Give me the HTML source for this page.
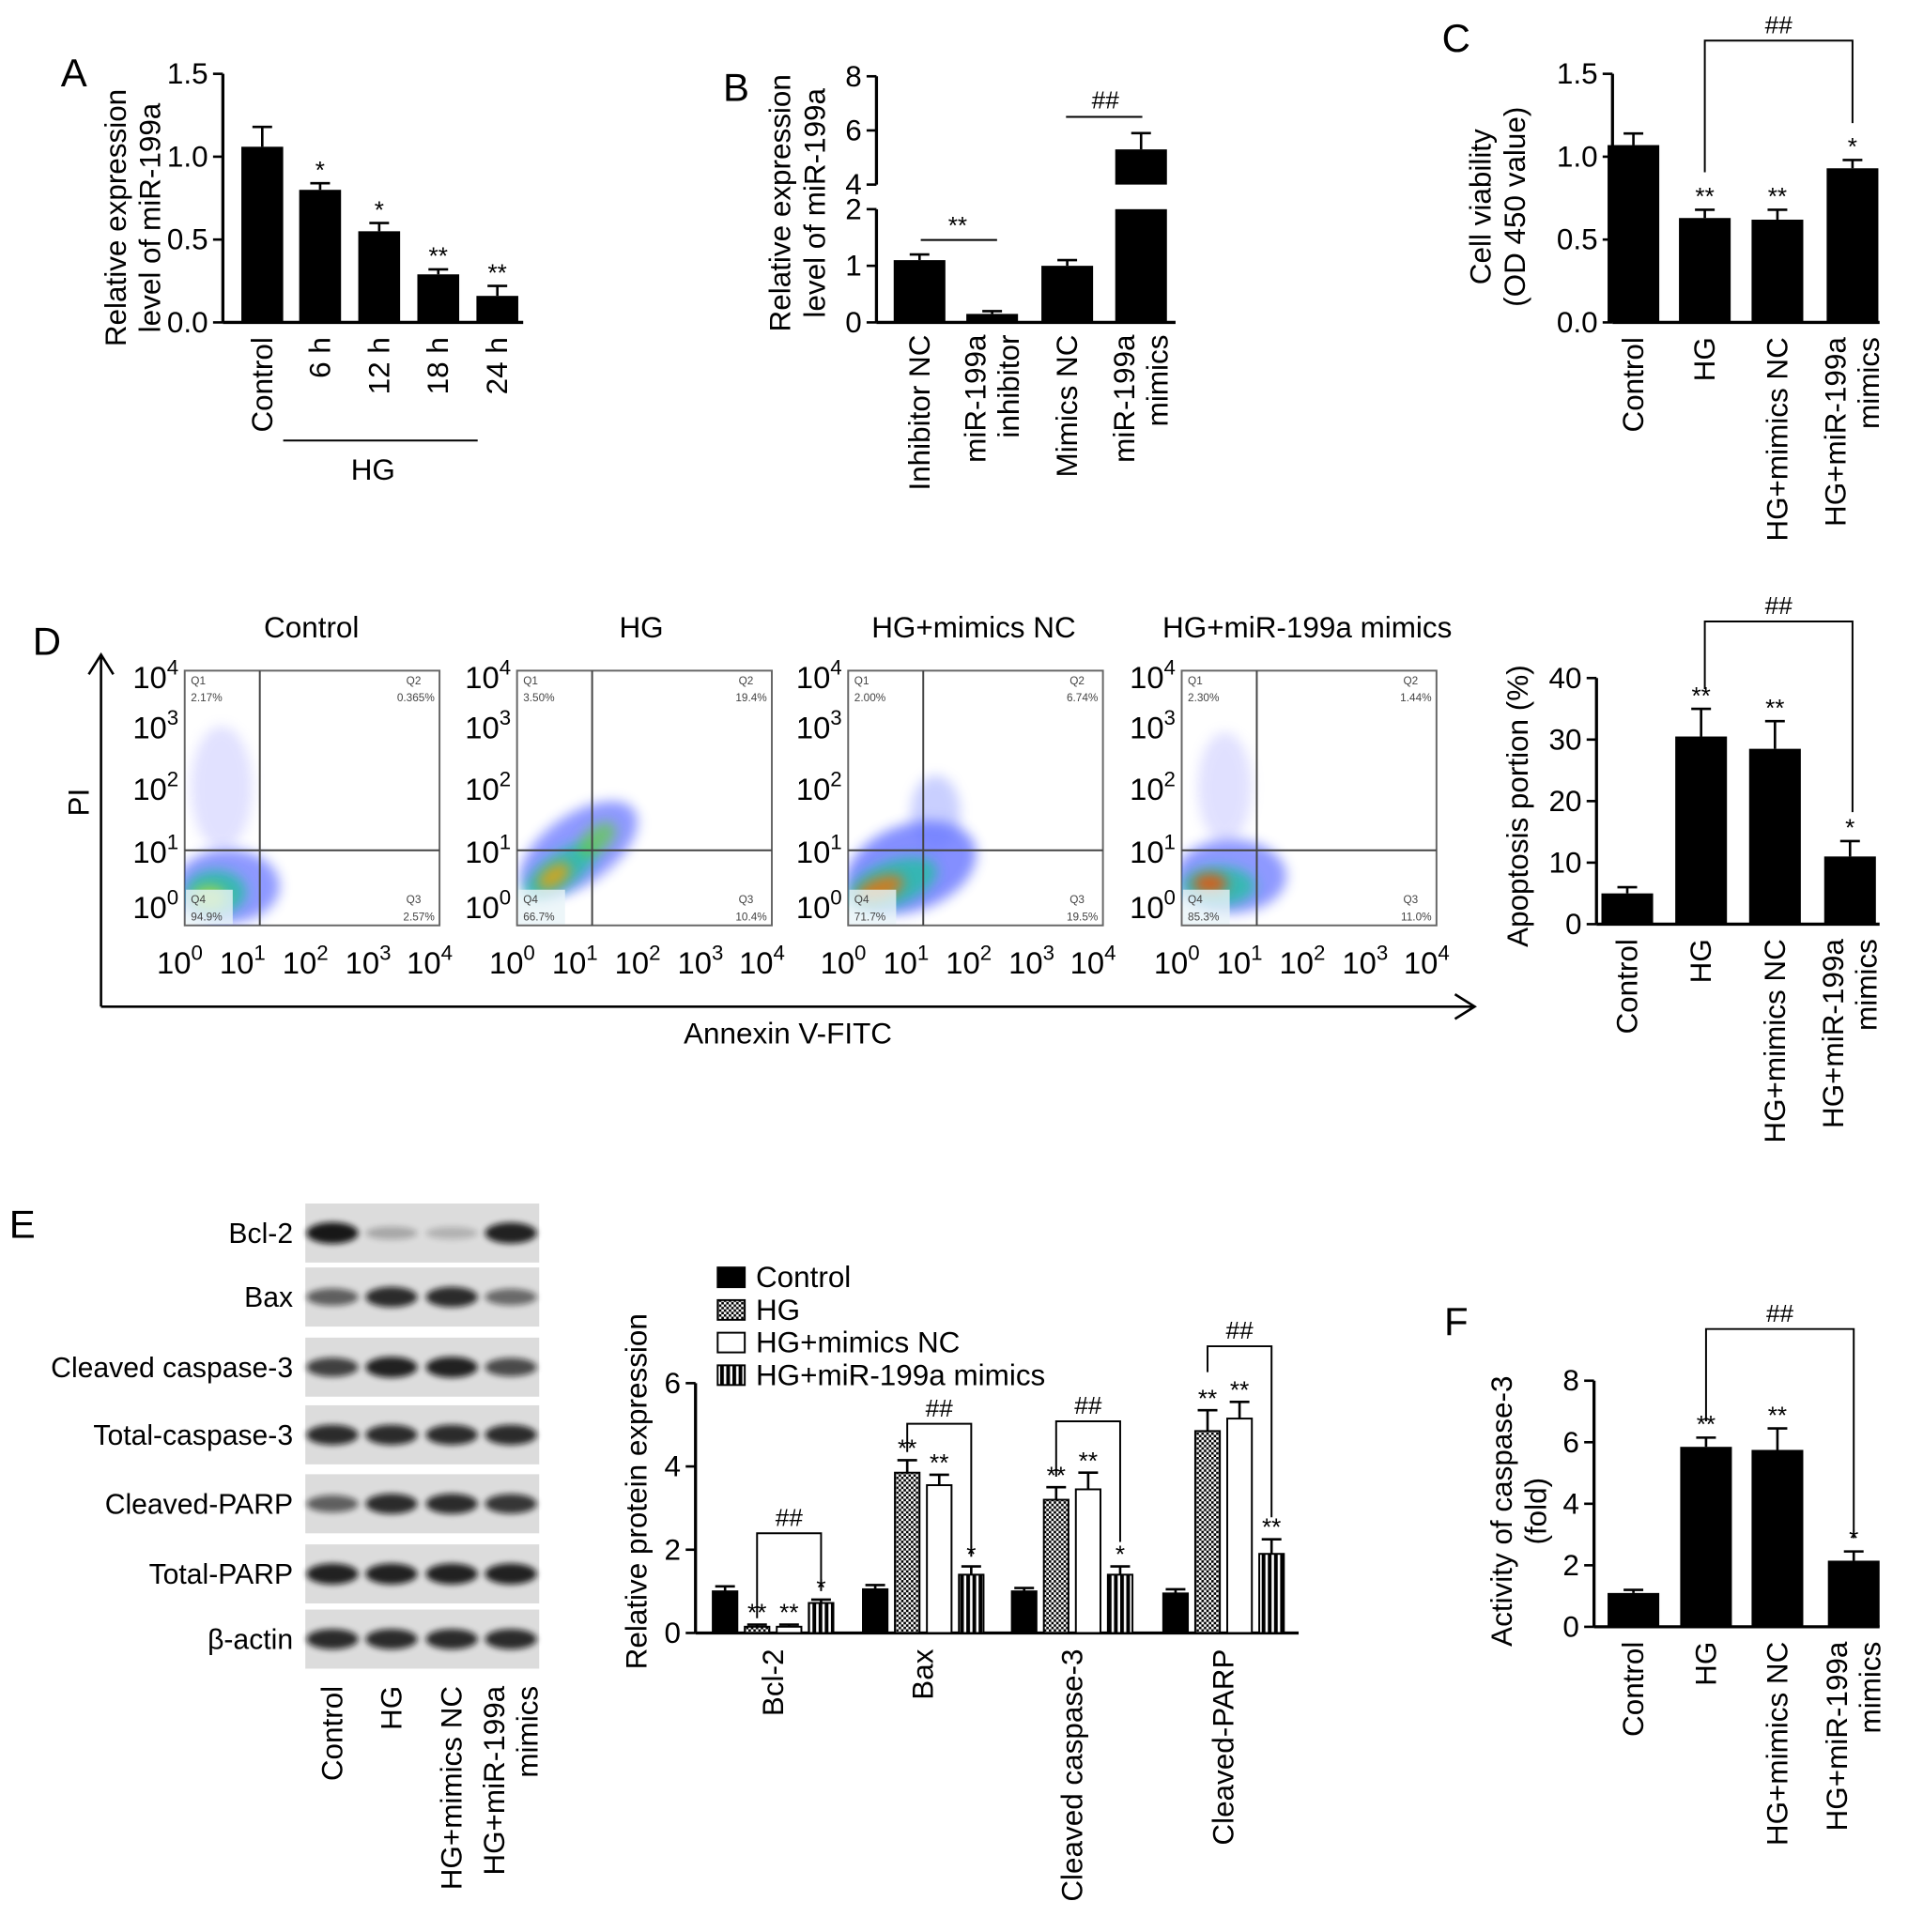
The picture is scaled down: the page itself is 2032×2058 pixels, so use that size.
<!DOCTYPE html>
<html><head><meta charset="utf-8">
<style>
html,body{margin:0;padding:0;background:#fff;}
svg{display:block;font-family:"Liberation Sans",Arial,sans-serif;}
</style></head>
<body>
<svg id="fig" width="2032" height="2058" viewBox="0 0 1550 1570" xmlns="http://www.w3.org/2000/svg">
<defs>
<filter id="blur" x="-50%" y="-50%" width="200%" height="200%"><feGaussianBlur stdDeviation="5"/></filter>
<filter id="blur2" x="-50%" y="-50%" width="200%" height="200%"><feGaussianBlur stdDeviation="2.5"/></filter>
<pattern id="hatch" width="4" height="4" patternUnits="userSpaceOnUse"><rect width="4" height="4" fill="#fff"/><rect width="2" height="2" fill="#000"/><rect x="2" y="2" width="2" height="2" fill="#000"/></pattern>
<pattern id="vstripe" width="5" height="5" patternUnits="userSpaceOnUse"><rect width="5" height="5" fill="#fff"/><rect width="3" height="5" fill="#000"/></pattern>
</defs>
</svg>
<script>
// ---------- DATA ----------
const aCats=['Control','6 h','12 h','18 h','24 h'];
const aVals=[1.06,0.80,0.55,0.29,0.16];
const aErrs=[0.12,0.04,0.05,0.03,0.06];
const aSig=['','*','*','**','**'];
const aTicks=[0,0.5,1.0,1.5];

const bCats=[['Inhibitor NC'],['miR-199a','inhibitor'],['Mimics NC'],['miR-199a','mimics']];
const bVals=[1.1,0.15,1.0,5.3];
const bErrs=[0.1,0.05,0.1,0.6];
const bTicksLow=[0,1,2];
const bTicksHigh=[4,6,8];

const grpCats=[['Control'],['HG'],['HG+mimics NC'],['HG+miR-199a','mimics']];
const cVals=[1.07,0.63,0.62,0.93];
const cErrs=[0.07,0.05,0.06,0.05];
const cSig=['','**','**','*'];
const cTicks=[0,0.5,1.0,1.5];

const dVals=[5,30.5,28.5,11];
const dErrs=[1,4.5,4.5,2.5];
const dSig=['','**','**','*'];
const dTicks=[0,10,20,30,40];

const eGroups=['Bcl-2','Bax','Cleaved caspase-3','Cleaved-PARP'];
const eSeries=['Control','HG','HG+mimics NC','HG+miR-199a mimics'];
const eVals=[[1.0,1.05,1.0,0.95],[0.15,3.85,3.2,4.85],[0.15,3.55,3.45,5.15],[0.72,1.4,1.4,1.9]];
const eErrs=[[0.12,0.1,0.08,0.1],[0.05,0.3,0.3,0.5],[0.05,0.25,0.4,0.4],[0.08,0.2,0.2,0.35]];
const eSig=[['','','',''],['**','**','**','**'],['**','**','**','**'],['*','*','*','**']];
const eTicks=[0,2,4,6];

const fVals=[1.1,5.85,5.75,2.15];
const fErrs=[0.1,0.3,0.7,0.3];
const fSig=['','**','**','*'];
const fTicks=[0,2,4,6,8];

const blotRows=['Bcl-2','Bax','Cleaved caspase-3','Total-caspase-3','Cleaved-PARP','Total-PARP','β-actin'];
const blotIntensity=[[0.95,0.25,0.2,0.9],[0.6,0.85,0.85,0.55],[0.75,0.9,0.9,0.7],[0.85,0.85,0.85,0.85],[0.6,0.85,0.85,0.8],[0.9,0.9,0.9,0.9],[0.85,0.85,0.85,0.85]];

const flowTitles=['Control','HG','HG+mimics NC','HG+miR-199a mimics'];
const flowQ=[['2.17%','0.365%','2.57%','94.9%'],['3.50%','19.4%','10.4%','66.7%'],['2.00%','6.74%','19.5%','71.7%'],['2.30%','1.44%','11.0%','85.3%']];

// ---------- HELPERS ----------
const svg=document.getElementById('fig');
const NS='http://www.w3.org/2000/svg';
function mk(tag,a,parent){const e=document.createElementNS(NS,tag);for(const k in a)e.setAttribute(k,a[k]);(parent||svg).appendChild(e);return e;}
function txt(x,y,s,a,parent){const e=mk('text',Object.assign({x:x,y:y},a||{}),parent);e.textContent=s;return e;}
function line(x1,y1,x2,y2,w){return mk('line',{x1:x1,y1:y1,x2:x2,y2:y2,stroke:'#000','stroke-width':w||2});}

function letter(x,y,s){const t=txt(x,y,s,{'font-size':32,'text-anchor':'middle'});

}

function yTitle(x,cy,lines,fs){lines.forEach((s,i)=>{const t=txt(x+i*(fs+4),cy,s,{'font-size':fs,'text-anchor':'middle',transform:'rotate(-90 '+(x+i*(fs+4))+' '+cy+')'});

});}

function xLabel(cx,y0,lines,fs){const n=lines.length;lines.forEach((s,i)=>{const x=cx+8+(i-(n-1)/2)*(fs+3);const t=txt(x,y0,s,{'font-size':fs,'text-anchor':'end',transform:'rotate(-90 '+x+' '+y0+')'});

});}

function errBar(cx,yTop,yErr){const l=line(cx,yTop,cx,yErr,2);


const c=line(cx-8,yErr,cx+8,yErr,2);

}

function sig(cx,y,s){if(!s)return;const t=txt(cx,y,s,{'font-size':20,'text-anchor':'middle'});

}

function bracket(x1,x2,yTop,y1,y2,label){const p=mk('path',{d:'M'+x1+' '+y1+' V'+yTop+' H'+x2+' V'+y2,fill:'none',stroke:'#000','stroke-width':1.5});


const t=txt((x1+x2)/2,yTop-6,label,{'font-size':20,'text-anchor':'middle'});

}

function barChart(o){
  const yS=v=>o.y0-(v/o.max)*(o.y0-o.yTop);
  const ax=line(o.ax,o.yTop,o.ax,o.y0,2.5);
  
  
  const xa=line(o.ax,o.y0,o.axEnd,o.y0,2.5);
  
  
  o.ticks.forEach(v=>{const y=yS(v);line(o.ax-8,y,o.ax,y,2);
    const t=txt(o.ax-12,y+8,o.fmt?o.fmt(v):String(v),{'font-size':24,'text-anchor':'end'});
    
    });
  o.vals.forEach((v,i)=>{const cx=o.cx[i];const y=yS(v);
    const ye=yS(v+o.errs[i]);errBar(cx,y,ye);
    const r=mk('rect',{x:cx-o.bw/2,y:y,width:o.bw,height:o.y0-y,fill:'#000'});
    
    
    if(o.sig)sig(cx,ye-4,o.sig[i]);
    xLabel(cx,o.y0+12,o.cats[i],24);});
  return yS;
}

// ---------- PANEL A ----------
letter(60,70,'A');
const aCx=[213,260,308,356,404];
barChart({ax:181,axEnd:425,y0:262,yTop:60,max:1.5,ticks:aTicks,fmt:v=>v.toFixed(1),vals:aVals,errs:aErrs,sig:aSig,cx:aCx,bw:34,cats:aCats.map(s=>[s])});
yTitle(102,177,['Relative expression','level of miR-199a'],24);
const hgl=line(230,358,388,358,1.5);


const hgt=txt(303,390,'HG',{'font-size':24,'text-anchor':'middle'});



// ---------- PANEL B ----------
letter(598,82,'B');
(function(){
  const bS=v=>v<=2?262-v*46:150-(v-4)*22;
  const ax=712,cx=[747,806,867,927],bw=42;
  const a1=line(ax,170,ax,262,2.5);
  
  
  const a2=line(ax,62,ax,150,2.5);
  
  
  const xa=line(ax,262,955,262,2.5);
  
  
  bTicksLow.concat(bTicksHigh).forEach(v=>{const y=bS(v);line(ax-8,y,ax,y,2);
    const t=txt(ax-12,y+8,String(v),{'font-size':24,'text-anchor':'end'});
    
    });
  bVals.forEach((v,i)=>{const y=bS(v);const ye=bS(v+bErrs[i]);errBar(cx[i],y,ye);
    if(v>2){const r1=mk('rect',{x:cx[i]-bw/2,y:170,width:bw,height:92,fill:'#000'});
      
      
      const r2=mk('rect',{x:cx[i]-bw/2,y:y,width:bw,height:150-y,fill:'#000'});
      
      }
    else{const r=mk('rect',{x:cx[i]-bw/2,y:y,width:bw,height:262-y,fill:'#000'});
      
      }
    xLabel(cx[i],272,bCats[i],24);});
  const l1=line(748,195,810,195,1.5);
  
  
  sig(778,190,'**');
  const l2=line(866,95,928,95,1.5);
  
  
  sig(898,88,'##');
})();
yTitle(642,165,['Relative expression','level of miR-199a'],24);

// ---------- PANEL C ----------
letter(1183,42,'C');
const cCx=[1327,1385,1444,1505];
barChart({ax:1310,axEnd:1527,y0:262,yTop:60,max:1.5,ticks:cTicks,fmt:v=>v.toFixed(1),vals:cVals,errs:cErrs,sig:cSig,cx:cCx,bw:42,cats:grpCats});
bracket(1385,1505,33,140,100,'##');
yTitle(1211,168,['Cell viability','(OD 450 value)'],24);

// ---------- PANEL D: FLOW ----------
letter(38,532,'D');
(function(){
  const ar=mk('path',{d:'M82 818 V534 M72 548 L82 532 L92 548 M82 818 H1196 M1182 808 L1198 818 L1182 828',fill:'none',stroke:'#000','stroke-width':2});
  
  
  const pi=txt(72,652,'PI',{'font-size':24,'text-anchor':'middle',transform:'rotate(-90 72 652)'});
  
  
  const an=txt(640,848,'Annexin V-FITC',{'font-size':24,'text-anchor':'middle'});
  
  
  const lefts=[150,420,689,960];
  const titleX=[253,521,791,1062];
  const clouds=[
    [[185,720,42,30,'#3344ff',0.55],[175,725,25,18,'#20c0a0',0.8],[170,730,14,10,'#c8e020',0.7],[180,640,25,50,'#8888ff',0.25]],
    [[470,690,55,28,'#3344ff',0.55,-35],[455,708,35,14,'#20c0a0',0.8,-35],[450,712,15,8,'#f0a000',0.8,-35],[485,682,18,10,'#60d040',0.7,-40]],
    [[740,705,55,35,'#3344ff',0.6,-20],[725,718,38,18,'#20c0a0',0.8,-20],[715,722,20,9,'#f07000',0.8,-20],[760,660,20,30,'#6677ff',0.35]],
    [[1000,712,45,30,'#3344ff',0.55],[990,720,30,16,'#20c0a0',0.8],[983,718,14,8,'#f05000',0.85],[995,640,22,45,'#8888ff',0.25]]];
  for(let k=0;k<4;k++){
    const L=lefts[k],T=545,W=207,H=207;
    const g=mk('g',{});
    
    
    mk('rect',{x:L,y:T,width:W,height:H,fill:'#fff',stroke:'#666','stroke-width':1.5},g);
    const cp=mk('clipPath',{id:'cp'+k},g);mk('rect',{x:L,y:T,width:W,height:H},cp);
    const cg=mk('g',{'clip-path':'url(#cp'+k+')'},g);
    clouds[k].forEach(c=>{mk('ellipse',{cx:c[0],cy:c[1],rx:c[2],ry:c[3],fill:c[4],opacity:c[5],filter:'url(#blur)',transform:c[6]?'rotate('+c[6]+' '+c[0]+' '+c[1]+')':''},cg);});
    mk('rect',{x:L+1,y:T+178,width:38,height:28,fill:'#e8f4f8',opacity:0.8},cg);
    line(L+61,T,L+61,T+H,1.5).setAttribute('stroke','#444');
    line(L,T+146,L+W,T+146,1.5).setAttribute('stroke','#444');
    const q=flowQ[k];
    [['Q1',L+5,T+11,'start'],[q[0],L+5,T+25,'start'],['Q2',L+W-15,T+11,'end'],[q[1],L+W-4,T+25,'end'],['Q3',L+W-15,T+189,'end'],[q[2],L+W-4,T+203,'end'],['Q4',L+5,T+189,'start'],[q[3],L+5,T+203,'start']].forEach(a=>{
      const t=txt(a[1],a[2],a[0],{'font-size':9,fill:'#444','text-anchor':a[3]});
      
      });
    const tt=txt(titleX[k],518,flowTitles[k],{'font-size':24,'text-anchor':'middle'});
    
    
    const yl=[746,701,650,600,559];
    const xl=[L+2,L+53,L+104,L+155,L+205];
    for(let e=0;e<5;e++){
      const t=txt(L-5,yl[e],'10',{'font-size':25,'text-anchor':'end'});
      const s=mk('tspan',{dy:-11,'font-size':17},t);s.textContent=String(e);
      
      
      const t2=txt(xl[e]-6,791,'10',{'font-size':25,'text-anchor':'middle'});
      const s2=mk('tspan',{dy:-11,'font-size':17},t2);s2.textContent=String(e);
      
      
    }
  }
})();

// ---------- PANEL D: BAR ----------
const dCx=[1322,1382,1442,1503];
barChart({ax:1297,axEnd:1527,y0:751,yTop:551,max:40,ticks:dTicks,vals:dVals,errs:dErrs,sig:dSig,cx:dCx,bw:42,cats:grpCats});
bracket(1385,1505,505,560,660,'##');
yTitle(1241,655,['Apoptosis portion (%)'],24);

// ---------- PANEL E: BLOTS ----------
letter(18,1006,'E');
(function(){
  const rowY=[978,1030,1087,1142,1198,1255,1308];
  const laneX=[270,318,367,415];
  blotRows.forEach((name,r)=>{
    const g=mk('g',{});
    
    
    mk('rect',{x:248,y:rowY[r],width:190,height:48,fill:'#dcdcdc'},g);
    laneX.forEach((cx,l)=>{const it=blotIntensity[r][l];
      mk('ellipse',{cx:cx,cy:rowY[r]+24,rx:21,ry:4+5*it,fill:'#111',opacity:it,filter:'url(#blur2)'},g);});
    const t=txt(238,rowY[r]+32,name,{'font-size':23,'text-anchor':'end'});
    
    
  });
  grpCats.forEach((c,i)=>xLabel(laneX[i],1370,c,24));
})();

// ---------- PANEL E: GROUPED BAR ----------
(function(){
  const y0=1327,yTop=1124,max=6,ax=565;
  const yS=v=>y0-(v/max)*(y0-yTop);
  const a=line(ax,yTop,ax,y0,2.5);
  
  
  const xa=line(ax,y0,1055,y0,2.5);
  
  
  eTicks.forEach(v=>{const y=yS(v);line(ax-8,y,ax,y,2);
    const t=txt(ax-12,y+8,String(v),{'font-size':24,'text-anchor':'end'});
    
    });
  const fills=['#000','url(#hatch)','#fff','url(#vstripe)'];
  const offs=[-39,-13,13,39];
  const gc=[628,750,871,994];
  eGroups.forEach((gname,gi)=>{
    eSeries.forEach((s,si)=>{const v=eVals[si][gi];const cx=gc[gi]+offs[si];const y=yS(v);const ye=yS(v+eErrs[si][gi]);
      errBar(cx,y,ye);
      const r=mk('rect',{x:cx-10,y:y,width:20,height:y0-y,fill:fills[si],stroke:'#000','stroke-width':1.5});
      
      
      sig(cx,ye-3,eSig[si][gi]);});
    xLabel(gc[gi],1340,[gname],24);
  });
  bracket(gc[0]+offs[1],gc[0]+offs[3],1246,1315,1293,'##');
  bracket(gc[1]+offs[1],gc[1]+offs[3],1157,1180,1265,'##');
  bracket(gc[2]+offs[1],gc[2]+offs[3],1155,1200,1253,'##');
  bracket(gc[3]+offs[1],gc[3]+offs[3],1094,1115,1233,'##');
  eSeries.forEach((s,i)=>{const y=1030+i*26.5;
    const r=mk('rect',{x:583,y:y,width:22,height:16,fill:fills[i],stroke:'#000','stroke-width':1.5});
    
    
    const t=txt(614,y+16,s,{'font-size':24});
    
    });
})();
yTitle(525,1212,['Relative protein expression'],24);

// ---------- PANEL F ----------
letter(1183,1085,'F');
const fCx=[1327,1386,1444,1506];
barChart({ax:1295,axEnd:1527,y0:1322,yTop:1122,max:8,ticks:fTicks,vals:fVals,errs:fErrs,sig:fSig,cx:fCx,bw:42,cats:grpCats});
bracket(1386,1506,1080,1155,1250,'##');
yTitle(1228,1228,['Activity of caspase-3','(fold)'],24);
</script>
</body></html>
